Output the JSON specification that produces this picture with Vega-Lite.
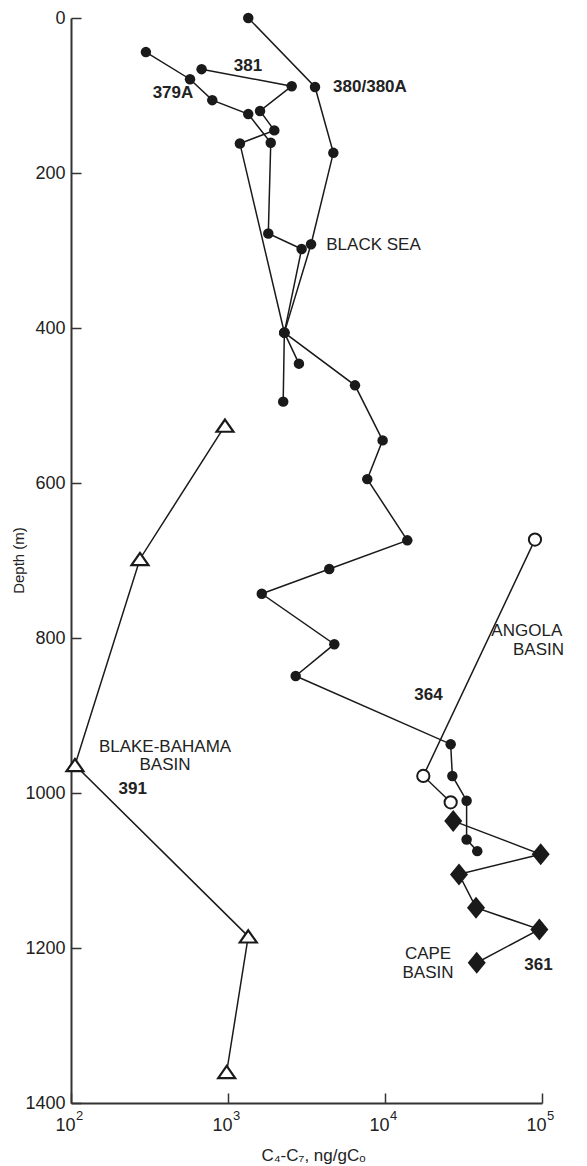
{
  "$schema": "https://vega.github.io/schema/vega-lite/v6.json",
  "width": 471,
  "height": 1085,
  "autosize": {"type": "none"},
  "padding": {"left": 71, "top": 18, "right": 45, "bottom": 63},
  "background": "white",
  "config": {"view": {"stroke": null}, "font": "Liberation Sans"},
  "datasets": {
    "obs": [
      {"site": "380/380A", "seq": 1, "conc": 1346, "depth": 0},
      {"site": "380/380A", "seq": 2, "conc": 3582, "depth": 89},
      {"site": "380/380A", "seq": 3, "conc": 4688, "depth": 174},
      {"site": "380/380A", "seq": 4, "conc": 3381, "depth": 292},
      {"site": "380/380A", "seq": 5, "conc": 2285, "depth": 406},
      {"site": "380/380A", "seq": 6, "conc": 6440, "depth": 474},
      {"site": "380/380A", "seq": 7, "conc": 9660, "depth": 545},
      {"site": "380/380A", "seq": 8, "conc": 7710, "depth": 595},
      {"site": "380/380A", "seq": 9, "conc": 13870, "depth": 674},
      {"site": "380/380A", "seq": 10, "conc": 4416, "depth": 711},
      {"site": "380/380A", "seq": 11, "conc": 1641, "depth": 743},
      {"site": "380/380A", "seq": 12, "conc": 4754, "depth": 808},
      {"site": "380/380A", "seq": 13, "conc": 2698, "depth": 849},
      {"site": "380/380A", "seq": 14, "conc": 26200, "depth": 937},
      {"site": "380/380A", "seq": 15, "conc": 26850, "depth": 978},
      {"site": "380/380A", "seq": 16, "conc": 33100, "depth": 1010},
      {"site": "380/380A", "seq": 17, "conc": 33100, "depth": 1060},
      {"site": "380/380A", "seq": 18, "conc": 38700, "depth": 1075},
      {"site": "381", "seq": 1, "conc": 679, "depth": 66},
      {"site": "381", "seq": 2, "conc": 2546, "depth": 88},
      {"site": "381", "seq": 3, "conc": 1600, "depth": 120},
      {"site": "381", "seq": 4, "conc": 1972, "depth": 145},
      {"site": "381", "seq": 5, "conc": 1191, "depth": 162},
      {"site": "381", "seq": 6, "conc": 2285, "depth": 406},
      {"site": "381", "seq": 7, "conc": 2830, "depth": 446},
      {"site": "379A", "seq": 1, "conc": 300, "depth": 44},
      {"site": "379A", "seq": 2, "conc": 573, "depth": 79},
      {"site": "379A", "seq": 3, "conc": 794, "depth": 106},
      {"site": "379A", "seq": 4, "conc": 1346, "depth": 124},
      {"site": "379A", "seq": 5, "conc": 1872, "depth": 161},
      {"site": "379A", "seq": 6, "conc": 1806, "depth": 278},
      {"site": "379A", "seq": 7, "conc": 2944, "depth": 298},
      {"site": "379A", "seq": 8, "conc": 2285, "depth": 406},
      {"site": "379A", "seq": 9, "conc": 2247, "depth": 495},
      {"site": "364", "seq": 1, "conc": 90200, "depth": 673},
      {"site": "364", "seq": 2, "conc": 17540, "depth": 978},
      {"site": "364", "seq": 3, "conc": 26200, "depth": 1012},
      {"site": "361", "seq": 1, "conc": 27200, "depth": 1036},
      {"site": "361", "seq": 2, "conc": 98100, "depth": 1079},
      {"site": "361", "seq": 3, "conc": 29600, "depth": 1105},
      {"site": "361", "seq": 4, "conc": 38000, "depth": 1148},
      {"site": "361", "seq": 5, "conc": 96200, "depth": 1176},
      {"site": "361", "seq": 6, "conc": 38400, "depth": 1219},
      {"site": "391", "seq": 1, "conc": 957, "depth": 526},
      {"site": "391", "seq": 2, "conc": 275, "depth": 698},
      {"site": "391", "seq": 3, "conc": 106, "depth": 964},
      {"site": "391", "seq": 4, "conc": 1346, "depth": 1185},
      {"site": "391", "seq": 5, "conc": 981, "depth": 1360}
    ],
    "labels": [
      {"kind": "site", "text": "381", "conc": 1340, "depth": 62},
      {"kind": "site", "text": "380/380A", "conc": 8020, "depth": 89},
      {"kind": "site", "text": "379A", "conc": 446, "depth": 97},
      {"kind": "site", "text": "391", "conc": 247, "depth": 995},
      {"kind": "site", "text": "364", "conc": 18900, "depth": 873},
      {"kind": "site", "text": "361", "conc": 95000, "depth": 1222},
      {"kind": "basin", "text": "BLACK SEA", "conc": 8450, "depth": 293},
      {"kind": "basin", "text": "BLAKE-BAHAMA", "conc": 397, "depth": 940},
      {"kind": "basin", "text": "BASIN", "conc": 397, "depth": 964},
      {"kind": "basin", "text": "ANGOLA", "conc": 80000, "depth": 791},
      {"kind": "basin", "text": "BASIN", "conc": 95000, "depth": 815},
      {"kind": "basin", "text": "CAPE", "conc": 18800, "depth": 1208},
      {"kind": "basin", "text": "BASIN", "conc": 18800, "depth": 1232}
    ],
    "exponents": [
      {"conc": 100, "depth": 1400, "exp": "2"},
      {"conc": 1000, "depth": 1400, "exp": "3"},
      {"conc": 10000, "depth": 1400, "exp": "4"},
      {"conc": 100000, "depth": 1400, "exp": "5"}
    ]
  },
  "encoding": {
    "x": {
      "field": "conc",
      "type": "quantitative",
      "scale": {"type": "log", "domain": [100, 100000]},
      "axis": {
        "title": "C₄-C₇, ng/gCₒ",
        "values": [100, 1000, 10000, 100000],
        "labelExpr": "'10'",
        "labelOffset": -6,
        "grid": false,
        "tickSize": -10,
        "tickWidth": 1.5,
        "tickColor": "#333",
        "domainColor": "#333",
        "domainWidth": 2,
        "labelFontSize": 18,
        "labelColor": "#222",
        "labelPadding": 23,
        "labelFlush": false,
        "labelOverlap": false,
        "titleFontSize": 17,
        "titleFontWeight": "normal",
        "titleColor": "#222",
        "titleX": 242,
        "titleY": 57,
        "titleBaseline": "alphabetic"
      }
    },
    "y": {
      "field": "depth",
      "type": "quantitative",
      "scale": {"domain": [0, 1400], "reverse": true},
      "axis": {
        "title": "Depth (m)",
        "values": [0, 200, 400, 600, 800, 1000, 1200, 1400],
        "format": "d",
        "grid": false,
        "tickSize": -10,
        "tickWidth": 1.5,
        "tickColor": "#333",
        "domainColor": "#333",
        "domainWidth": 2,
        "labelFontSize": 18,
        "labelColor": "#222",
        "labelPadding": 16,
        "labelFlush": false,
        "labelOverlap": false,
        "titleFontSize": 15,
        "titleFontWeight": "normal",
        "titleColor": "#222",
        "titleX": -53,
        "titleY": 542,
        "titleAngle": 270,
        "titleAlign": "center",
        "titleBaseline": "middle"
      }
    }
  },
  "layer": [
    {
      "data": {"name": "obs"},
      "mark": {"type": "line", "color": "#1a1a1a", "strokeWidth": 1.5, "clip": false},
      "encoding": {
        "detail": {"field": "site"},
        "order": {"field": "seq", "type": "quantitative"}
      }
    },
    {
      "data": {"name": "obs"},
      "transform": [{"filter": "datum.site === '380/380A' || datum.site === '381' || datum.site === '379A'"}],
      "mark": {"type": "point", "shape": "circle", "filled": true, "size": 110, "color": "#1a1a1a", "opacity": 1}
    },
    {
      "data": {"name": "obs"},
      "transform": [{"filter": "datum.site === '364'"}],
      "mark": {"type": "point", "shape": "circle", "filled": true, "size": 150, "fill": "white", "stroke": "#1a1a1a", "strokeWidth": 2, "opacity": 1}
    },
    {
      "data": {"name": "obs"},
      "transform": [{"filter": "datum.site === '361'"}],
      "mark": {"type": "point", "shape": "M0,-1L0.82,0L0,1L-0.82,0Z", "filled": true, "size": 484, "color": "#1a1a1a", "opacity": 1}
    },
    {
      "data": {"name": "obs"},
      "transform": [{"filter": "datum.site === '391'"}],
      "mark": {"type": "point", "shape": "M0,-0.72L1,0.72L-1,0.72Z", "filled": true, "size": 289, "fill": "white", "stroke": "#1a1a1a", "strokeWidth": 2.2, "opacity": 1}
    },
    {
      "data": {"name": "labels"},
      "transform": [{"filter": "datum.kind === 'site'"}],
      "mark": {"type": "text", "fontSize": 17, "fontWeight": "bold", "color": "#222", "align": "center", "baseline": "middle"},
      "encoding": {"text": {"field": "text"}}
    },
    {
      "data": {"name": "labels"},
      "transform": [{"filter": "datum.kind === 'basin'"}],
      "mark": {"type": "text", "fontSize": 17, "color": "#222", "align": "center", "baseline": "middle"},
      "encoding": {"text": {"field": "text"}}
    },
    {
      "data": {"name": "exponents"},
      "mark": {"type": "text", "fontSize": 13, "color": "#222", "align": "left", "baseline": "middle", "dx": 5, "dy": 13, "clip": false},
      "encoding": {"text": {"field": "exp"}}
    }
  ]
}
